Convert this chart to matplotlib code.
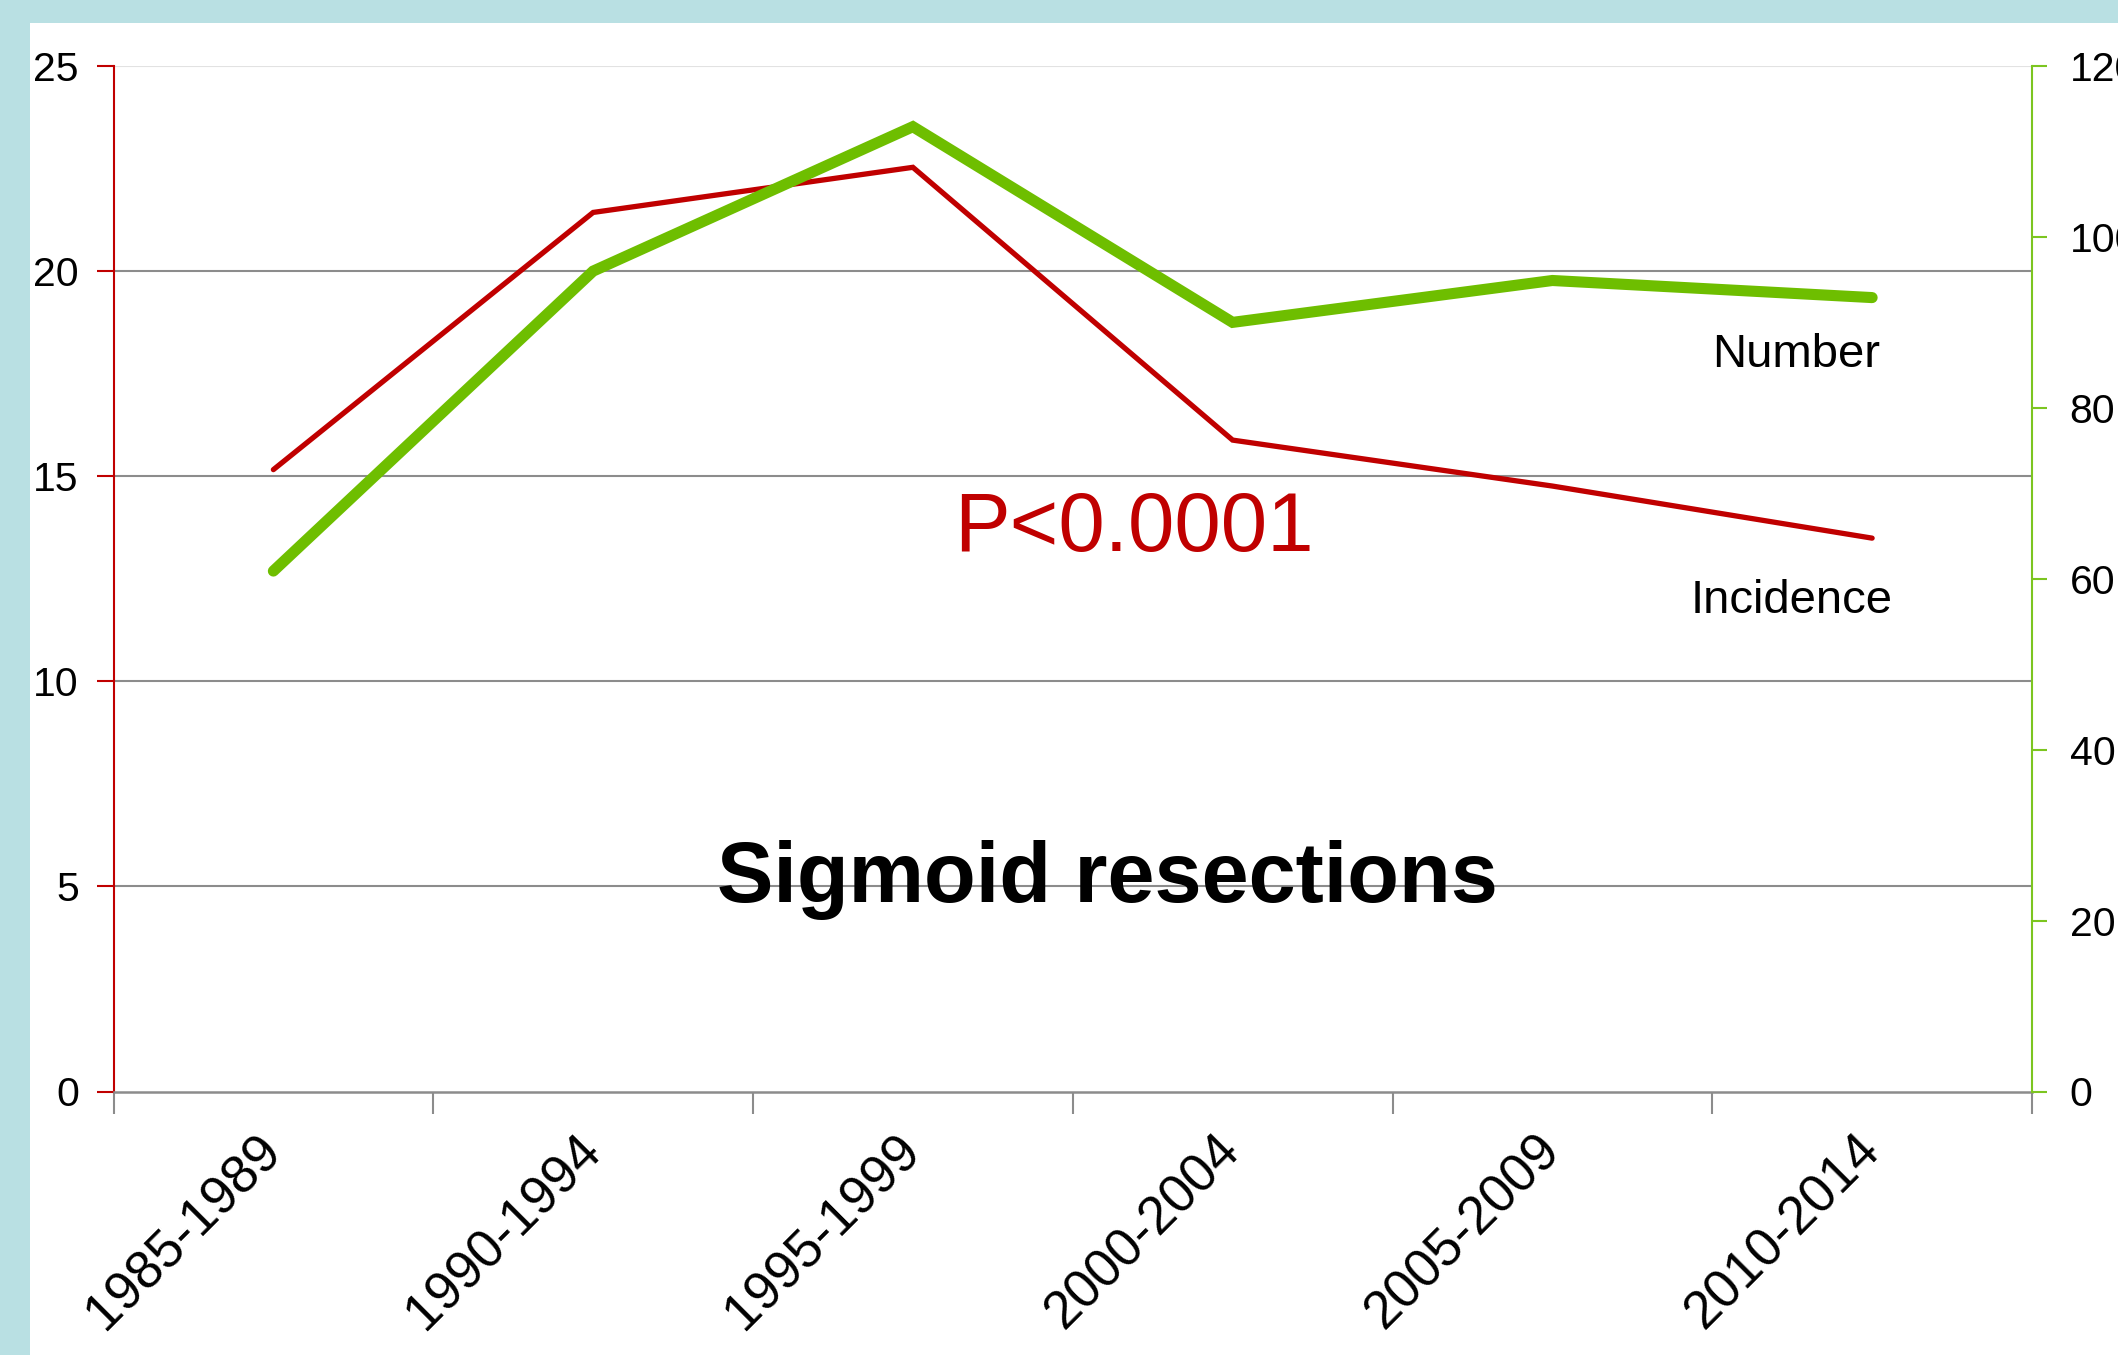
import matplotlib
matplotlib.use("Agg")
import matplotlib.pyplot as plt
from matplotlib.patches import Rectangle
import numpy as np

plt.rcParams['font.family'] = ['Liberation Sans', 'DejaVu Sans']

periods = ["1985-1989", "1990-1994", "1995-1999", "2000-2004", "2005-2009", "2010-2014"]
incidence = [15.16, 21.43, 22.53, 15.88, 14.76, 13.49]
number = [60.9, 96.0, 112.9, 90.0, 94.9, 92.9]
left_ticks = [0, 5, 10, 15, 20, 25]
right_ticks = [0, 20, 40, 60, 80, 100, 120]

W, H = 2118, 1355
fig = plt.figure(figsize=(W / 100, H / 100), dpi=100)
fig.patch.set_facecolor('#B9E0E3')
fig.patches.append(Rectangle((30 / W, 0), 1, 1 - 23 / H, transform=fig.transFigure,
                             facecolor='white', edgecolor='none', zorder=-10))

ax_l, ax_r, ax_t, ax_b = 113.5, 2032, 66, 1091.5
ax = fig.add_axes([ax_l / W, 1 - ax_b / H, (ax_r - ax_l) / W, (ax_b - ax_t) / H])
ax.set_facecolor('none')
x = np.arange(len(periods))

RED = '#C00000'
GREEN = '#6EBE00'
GRID = '#8C8C8C'

ax.plot(x, incidence, color=RED, lw=3.8, solid_capstyle='round', solid_joinstyle='miter', zorder=3)
ax.set_xlim(-0.5, len(periods) - 0.5)
ax.set_ylim(0, 25)
ax.set_yticks(left_ticks)
ax.set_yticklabels([str(v) for v in left_ticks])
ax.yaxis.grid(True, color=GRID, lw=1.5)
gl = ax.yaxis.get_gridlines()
gl[-1].set_color('#E2E2E2')
gl[0].set_visible(False)
ax.set_axisbelow(True)

ax.set_xticks(x)
ax.set_xticklabels(periods, rotation=45, ha='right', va='center', rotation_mode='anchor', fontsize=38)
ax.tick_params(axis='x', which='major', length=0, pad=37)
ax.set_xticks(np.arange(-0.5, len(periods)), minor=True)
ax.tick_params(axis='x', which='minor', length=16, width=1.5, color=GRID)
ax.tick_params(axis='y', length=12, width=1.5, color=RED, labelsize=29.5, pad=13)

for s in ['top', 'right']:
    ax.spines[s].set_visible(False)
ax.spines['left'].set_color(RED)
ax.spines['left'].set_linewidth(1.5)
ax.spines['bottom'].set_color(GRID)
ax.spines['bottom'].set_linewidth(1.8)

ax2 = ax.twinx()
ax2.plot(x, number, color=GREEN, lw=8, solid_capstyle='round', solid_joinstyle='miter', zorder=4)
ax2.set_ylim(0, 120)
ax2.set_yticks(right_ticks)
ax2.set_yticklabels([str(v) for v in right_ticks])
ax2.tick_params(axis='y', length=11, width=1.5, color='#7CC520', labelsize=29.5, pad=16)
for s in ['top', 'left', 'bottom']:
    ax2.spines[s].set_visible(False)
ax2.spines['right'].set_color('#7CC520')
ax2.spines['right'].set_linewidth(1.5)

ax.text(0.9208, 0.7065, "Number", transform=ax.transAxes, ha='right', va='baseline', fontsize=34)
ax.text(0.9275, 0.4666, "Incidence", transform=ax.transAxes, ha='right', va='baseline', fontsize=34)
ax.text(0.4381, 0.527, "P<0.0001", transform=ax.transAxes, ha='left', va='baseline', fontsize=60, color=RED)
ax.text(0.518, 0.1848, "Sigmoid resections", transform=ax.transAxes, ha='center', va='baseline',
        fontsize=61, fontweight='bold')

fig.savefig('out.png', dpi=100, facecolor=fig.get_facecolor())
